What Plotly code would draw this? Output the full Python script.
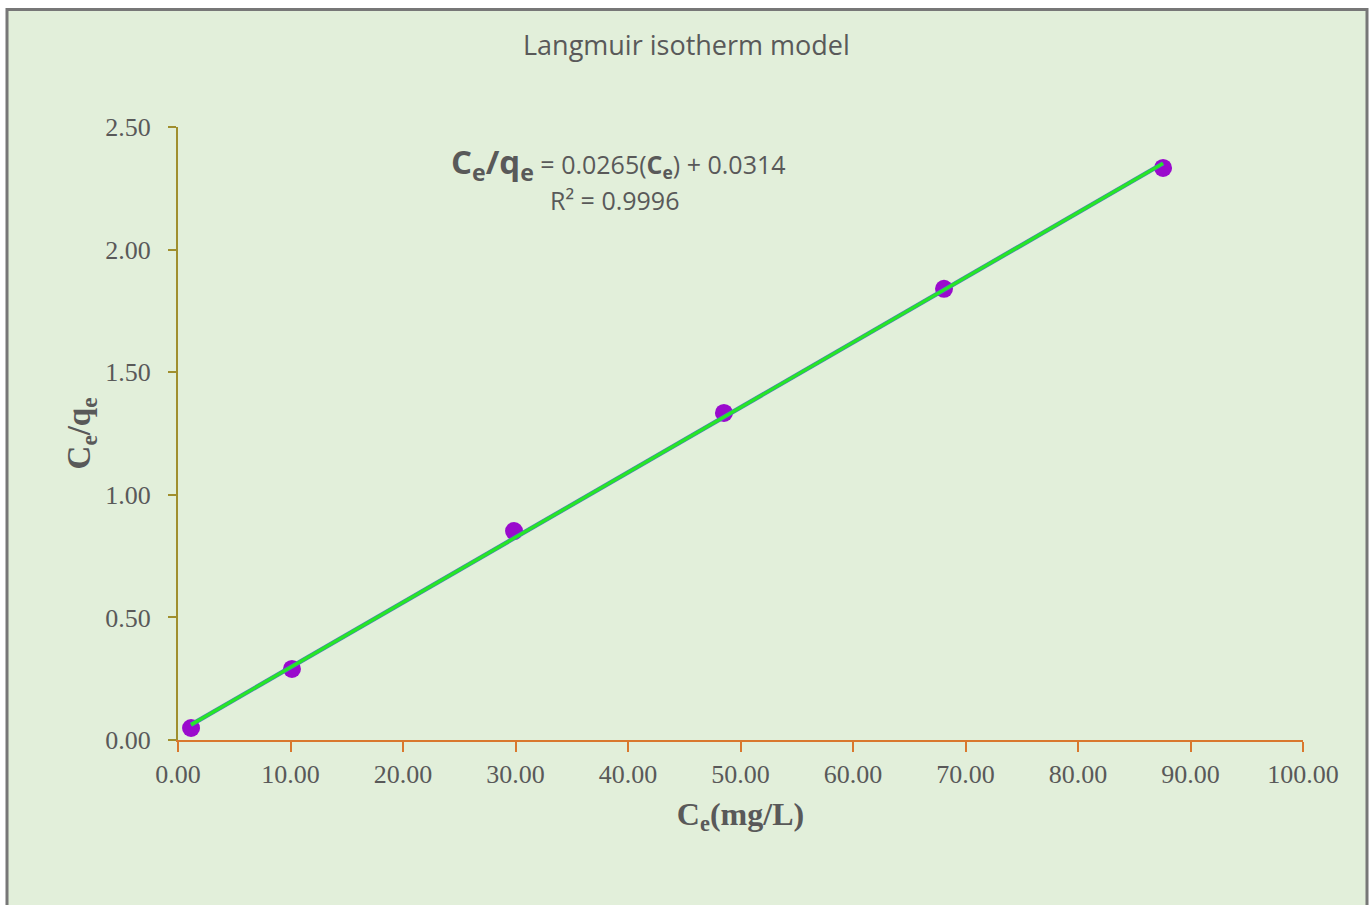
import numpy as np
import plotly.graph_objects as go

# Data
ce = [1.16, 10.13, 29.87, 48.53, 68.09, 87.56]
ce_qe = [0.049, 0.290, 0.852, 1.334, 1.840, 2.333]
slope = 0.0265
intercept = 0.0314
r2 = 0.9996
x_ticks = [0, 10, 20, 30, 40, 50, 60, 70, 80, 90, 100]
y_ticks = [0.0, 0.5, 1.0, 1.5, 2.0, 2.5]

W, H = 1370, 905
L, R, T, B = 178, 67, 127, 165
pw, ph = W - L - R, H - T - B

def px(x):
    return (x - L) / pw

def py(y):
    return (H - B - y) / ph

fit_x = np.array([min(ce), max(ce)])
fit_y = slope * fit_x + intercept

fig = go.Figure()
fig.add_trace(go.Scatter(x=ce, y=ce_qe, mode="markers",
                         marker=dict(color="#9A0ACD", size=18, line=dict(width=0)),
                         showlegend=False, cliponaxis=False))
fig.add_trace(go.Scatter(x=fit_x, y=fit_y, mode="lines",
                         line=dict(color="#4A7FB5", width=4.5), showlegend=False, cliponaxis=False))
fig.add_trace(go.Scatter(x=fit_x, y=fit_y, mode="lines",
                         line=dict(color="#26E626", width=3.2), showlegend=False, cliponaxis=False))

fig.add_shape(type="rect", xref="paper", yref="paper",
              x0=px(7), x1=px(1367), y0=py(920), y1=py(9.5),
              fillcolor="#E2EFDA", line=dict(color="#777777", width=3), layer="below")

sans = "Open Sans, Liberation Sans, sans-serif"
fig.add_annotation(xref="paper", yref="paper", x=px(686), y=py(45),
                   xanchor="center", yanchor="middle",
                   text="Langmuir isotherm model", showarrow=False,
                   font=dict(family=sans, size=27, color="#595959"))
fig.add_annotation(xref="paper", yref="paper", x=px(618), y=py(164),
                   xanchor="center", yanchor="middle",
                   text=("<b><span style='font-size:33px'>C<sub>e</sub>/q<sub>e</sub></span></b>"
                         " = %.4f(<b>C<sub>e</sub></b>) + %.4f" % (slope, intercept)),
                   showarrow=False,
                   font=dict(family=sans, size=25, color="#595959"))
fig.add_annotation(xref="paper", yref="paper", x=px(614), y=py(200),
                   xanchor="center", yanchor="middle",
                   text="R² = %.4f" % r2, showarrow=False,
                   font=dict(family=sans, size=25, color="#595959"))

serif = "Liberation Serif, Times New Roman, serif"
fig.update_layout(
    width=W, height=H,
    margin=dict(l=L, r=R, t=T, b=B),
    paper_bgcolor="white", plot_bgcolor="rgba(0,0,0,0)",
    xaxis=dict(range=[0, 100], tickvals=x_ticks, tickformat=".2f",
               showgrid=False, zeroline=False, showline=True,
               linecolor="#D9782E", linewidth=2, ticks="outside", ticklen=10,
               tickwidth=2, tickcolor="#D9782E",
               tickfont=dict(family=serif, size=26, color="#595959"),
               title=dict(text="<b>C<sub>e</sub>(mg/L)</b>", standoff=14,
                          font=dict(family=serif, size=32, color="#595959"))),
    yaxis=dict(range=[0, 2.5], tickvals=y_ticks, tickformat=".2f",
               showgrid=False, zeroline=False, showline=True,
               linecolor="#A08F2E", linewidth=2, ticks="outside", ticklen=8,
               tickwidth=2, tickcolor="#A08F2E",
               tickfont=dict(family=serif, size=26, color="#595959"),
               ticklabelstandoff=12,
               title=dict(text="<b>C<sub>e</sub>/q<sub>e</sub></b>", standoff=5,
                          font=dict(family=serif, size=33, color="#595959"))),
)

fig.write_html("out.html")
